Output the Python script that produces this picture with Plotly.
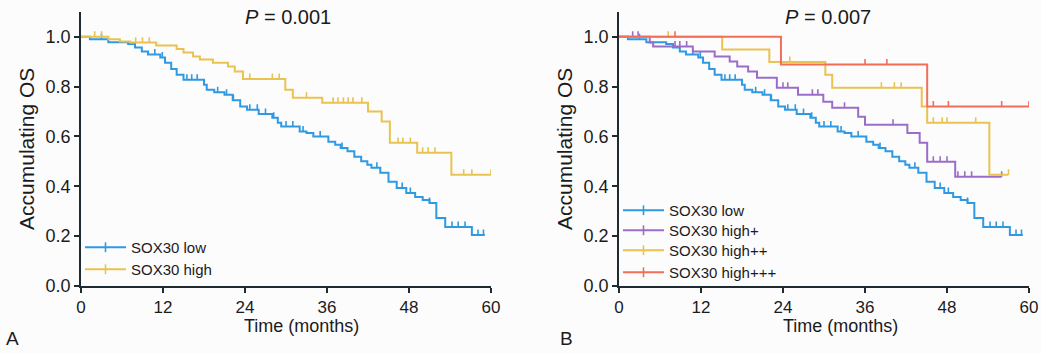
import plotly.graph_objects as go

# ---------------- data ----------------
# SOX30 low (same curve in both panels)
low_t = [1.3, 4.0, 6.9, 7.9, 8.9, 9.8, 11.6, 12.3, 13.2, 14.0, 15.0, 18.0, 18.4, 19.5,
         21.0, 22.2, 23.3, 24.3, 26.0, 28.0, 28.8, 29.3, 32.0, 33.0, 34.0, 36.2, 37.2,
         38.0, 39.0, 40.0, 41.0, 41.9, 42.5, 43.8, 45.0, 46.2, 47.6, 48.9, 50.0, 51.0,
         52.0, 53.3, 57.2]
low_s = [0.99, 0.977, 0.97, 0.956, 0.94, 0.928, 0.916, 0.895, 0.87, 0.847, 0.827, 0.807,
         0.787, 0.777, 0.767, 0.745, 0.72, 0.707, 0.69, 0.675, 0.655, 0.64, 0.62, 0.614,
         0.60, 0.578, 0.566, 0.553, 0.54, 0.518, 0.50, 0.486, 0.474, 0.454, 0.418, 0.393,
         0.373, 0.357, 0.345, 0.333, 0.273, 0.237, 0.205]
low_cens = [3.0, 10.8, 11.9, 15.5, 16.2, 17.0, 20.0, 21.3, 22.3, 24.7, 25.8, 27.0, 28.2,
            30.0, 31.0, 32.5, 35.0, 38.2, 43.3, 47.0, 48.2, 51.0, 54.3, 55.2, 56.2, 58.1, 58.9]
low_end = 59.1

# SOX30 high (panel A)
high_t = [4.0, 5.7, 7.2, 11.0, 14.0, 15.0, 16.4, 17.4, 19.3, 21.5, 22.5, 23.7, 29.9, 31.0,
          35.3, 42.0, 44.0, 45.2, 49.2, 54.2]
high_s = [0.99, 0.98, 0.976, 0.964, 0.95, 0.936, 0.92, 0.908, 0.895, 0.88, 0.86, 0.83,
          0.787, 0.755, 0.735, 0.70, 0.66, 0.574, 0.534, 0.446]
high_cens = [2.0, 3.0, 8.0, 9.0, 10.0, 24.7, 28.0, 29.0, 33.0, 36.9, 37.6, 38.4, 39.1,
             39.8, 41.1, 46.4, 47.1, 48.2, 50.0, 50.8, 51.8, 56.0, 57.2, 60.0]
high_end = 60.0

# SOX30 high+ (panel B)
h1_t = [4.5, 5.0, 10.8, 14.0, 16.2, 17.3, 18.9, 20.2, 23.1, 26.2, 29.9, 31.2, 35.0, 36.0,
        42.2, 44.0, 45.1, 49.2]
h1_s = [0.976, 0.96, 0.94, 0.92, 0.90, 0.88, 0.86, 0.835, 0.795, 0.767, 0.739, 0.715,
        0.679, 0.647, 0.614, 0.574, 0.498, 0.438]
h1_cens = [2.0, 2.8, 8.2, 8.9, 9.9, 24.0, 24.7, 28.3, 29.1, 33.0, 40.1, 46.0, 47.0, 48.0,
           49.6, 50.6, 51.6, 56.0]
h1_end = 56.0

# SOX30 high++ (panel B)
h2_t = [15.1, 22.0, 30.2, 31.2, 44.3, 45.1, 54.2]
h2_s = [0.948, 0.898, 0.847, 0.795, 0.72, 0.655, 0.446]
h2_cens = [7.2, 25.0, 38.4, 40.3, 41.3, 46.0, 47.3, 48.0, 52.2, 57.0]
h2_end = 57.0

# SOX30 high+++ (panel B)
h3_t = [23.7, 45.1]
h3_s = [0.888, 0.72]
h3_cens = [8.2, 36.0, 39.2, 46.0, 48.2, 56.0, 60.0]
h3_end = 60.0

x_ticks = [0, 12, 24, 36, 48, 60]
y_ticks = [0.0, 0.2, 0.4, 0.6, 0.8, 1.0]
p_values = ["0.001", "0.007"]
panel_labels = ["A", "B"]
x_title = "Time (months)"
y_title = "Accumulating OS"

# ---------------- style ----------------
C_LOW = "#2f99e2"
C_HIGH = "#e9c24f"
C_H1 = "#9b6dc8"
C_H2 = "#e9c24f"
C_H3 = "#f26e58"
AXIS = "#1e2b30"
TXT = "#1b1b1b"
FONT = "Liberation Sans, Arial, Helvetica, sans-serif"
TICK_H = 0.022
W, H = 1041, 353


def surv_at(times, surv, t):
    s = 1.0
    for ti, si in zip(times, surv):
        if ti <= t:
            s = si
    return s


def km_traces(times, surv, cens, end, color, name, xa, ya, legend):
    xs = [0.0] + list(times) + [end]
    ys = [1.0] + list(surv) + [surv[-1]]
    out = [go.Scatter(x=xs, y=ys, mode="lines", line=dict(color=color, width=2, shape="hv"),
                      xaxis=xa, yaxis=ya, showlegend=False, hoverinfo="skip")]
    cx, cy = [], []
    for c in cens:
        s = surv_at(times, surv, c)
        cx += [c, c, None]
        cy += [s, s + TICK_H, None]
    out.append(go.Scatter(x=cx, y=cy, mode="lines", line=dict(color=color, width=1.6),
                          xaxis=xa, yaxis=ya, showlegend=False, hoverinfo="skip"))
    out.append(go.Scatter(x=[None], y=[None], mode="lines+markers", name=name,
                          line=dict(color=color, width=2),
                          marker=dict(symbol="line-ns", size=7,
                                      line=dict(color=color, width=1.6)),
                          xaxis=xa, yaxis=ya, legend=legend))
    return out


series = [
    (low_t, low_s, low_cens, low_end, C_LOW, "SOX30 low", "x", "y", "legend", 80, 231),
    (high_t, high_s, high_cens, high_end, C_HIGH, "SOX30 high", "x", "y", "legend2", 80, 253),
    (low_t, low_s, low_cens, low_end, C_LOW, "SOX30 low", "x2", "y2", "legend3", 618, 194),
    (h1_t, h1_s, h1_cens, h1_end, C_H1, "SOX30 high+", "x2", "y2", "legend4", 618, 214),
    (h2_t, h2_s, h2_cens, h2_end, C_H2, "SOX30 high++", "x2", "y2", "legend5", 618, 234),
    (h3_t, h3_s, h3_cens, h3_end, C_H3, "SOX30 high+++", "x2", "y2", "legend6", 618, 256),
]

fig = go.Figure()
legends = {}
for t, s, c, e, col, name, xa, ya, lg, lx, ly in series:
    for tr in km_traces(t, s, c, e, col, name, xa, ya, lg):
        fig.add_trace(tr)
    legends[lg] = dict(x=lx / W, y=1 - ly / H, xanchor="left", yanchor="top",
                       bgcolor="rgba(0,0,0,0)", borderwidth=0,
                       font=dict(family=FONT, size=15, color=TXT),
                       itemwidth=41)

yb, yt = 1 - 286 / H, 1 - 11.7 / H

xaxis_common = dict(range=[0, 60], tickvals=x_ticks, showline=True, linecolor=AXIS,
                    linewidth=1.8, ticks="outside", ticklen=5, tickwidth=1.8,
                    tickcolor=AXIS, showgrid=False, zeroline=False, automargin=False,
                    tickfont=dict(family=FONT, size=17, color=TXT))
yaxis_common = dict(range=[0, 1.1], tickvals=y_ticks, tickformat=".1f", showline=True,
                    linecolor=AXIS, linewidth=1.8, ticks="outside", ticklen=5,
                    tickwidth=1.8, tickcolor=AXIS, showgrid=False, zeroline=False,
                    automargin=False,
                    tickfont=dict(family=FONT, size=18, color=TXT),
                    domain=[yb, yt],
                    title=dict(text=y_title, standoff=5,
                               font=dict(family=FONT, size=21, color=TXT)))

fig.update_layout(
    width=W, height=H,
    margin=dict(l=0, r=0, t=0, b=0, autoexpand=False),
    paper_bgcolor="#fdfcfd", plot_bgcolor="#fdfcfd",
    xaxis=dict(xaxis_common, domain=[81 / W, 491 / W], anchor="y"),
    yaxis=dict(yaxis_common, anchor="x"),
    xaxis2=dict(xaxis_common, domain=[619 / W, 1029 / W], anchor="y2"),
    yaxis2=dict(yaxis_common, anchor="x2"),
    showlegend=True,
    **legends,
)

for cx, pv in zip([288, 828], p_values):
    fig.add_annotation(x=cx / W, y=1 - 17 / H, xref="paper", yref="paper",
                       xanchor="center", yanchor="middle",
                       text=f"<i>P</i> = {pv}", showarrow=False,
                       font=dict(family=FONT, size=20, color=TXT))
for tx in [301, 840]:
    fig.add_annotation(x=tx / W, y=1 - 326 / H, xref="paper", yref="paper",
                       xanchor="center", yanchor="middle",
                       text=x_title, showarrow=False,
                       font=dict(family=FONT, size=18, color=TXT))
for lab, lx in zip(panel_labels, [12, 566]):
    fig.add_annotation(x=lx / W, y=1 - 338 / H, xref="paper", yref="paper",
                       xanchor="center", yanchor="middle",
                       text=lab, showarrow=False,
                       font=dict(family=FONT, size=19, color=TXT))

fig.write_html("out.html", config={"displayModeBar": False},
               post_script="document.body.style.margin='0';document.body.style.padding='0';")
